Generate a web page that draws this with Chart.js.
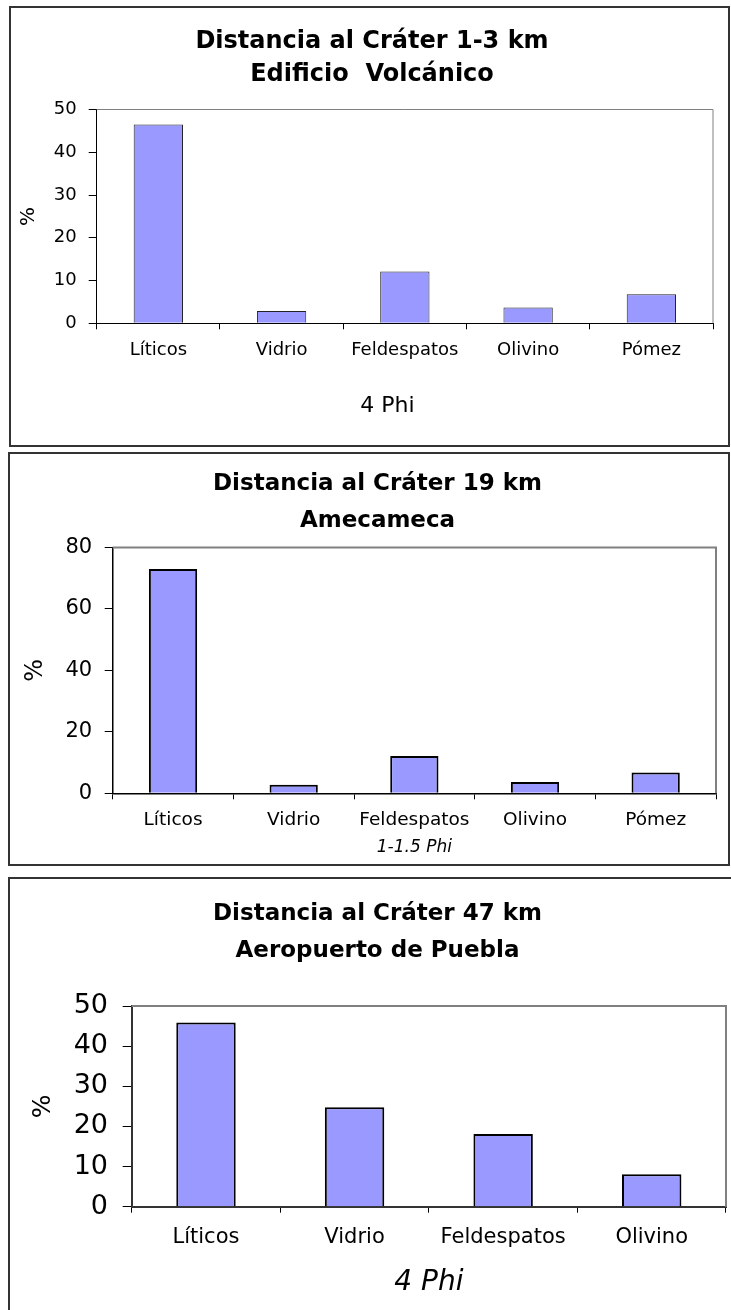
<!DOCTYPE html>
<html>
<head>
<meta charset="utf-8">
<title>Distancia al Cráter</title>
<script src="https://cdn.jsdelivr.net/npm/chart.js"></script>
<style>
    body { margin: 0; background: #fff; overflow: hidden; width: 731px; height: 1310px; position: relative; }
    .panel { position: absolute; box-sizing: border-box; border: 2px solid #333; }
    canvas { position: absolute; left: 0; }
</style>
</head>
<body>
<!-- the three framed chart boxes -->
<div class="panel" style="left:9px; top:6px; width:721px; height:441px;"></div>
<div class="panel" style="left:8px; top:452px; width:722px; height:414px;"></div>
<div class="panel" style="left:8px; top:877px; width:760px; height:500px;"></div>

<canvas id="chart1" width="744" height="438" style="top:8px;"></canvas>
<canvas id="chart2" width="755" height="410" style="top:454px;"></canvas>
<canvas id="chart3" width="755" height="431" style="top:879px;"></canvas>

<script>
// Data
const minerals = ['Líticos', 'Vidrio', 'Feldespatos', 'Olivino', 'Pómez'];
const minerals47 = ['Líticos', 'Vidrio', 'Feldespatos', 'Olivino'];

const pct1to3km = [46.5, 2.9, 12.1, 3.7, 6.8];
const pct19km = [73.0, 2.8, 12.1, 3.7, 6.8];
const pct47km = [45.9, 24.8, 18.1, 8.1];

const yTicks1to3km = [0, 10, 20, 30, 40, 50];
const yTicks19km = [0, 20, 40, 60, 80];
const yTicks47km = [0, 10, 20, 30, 40, 50];

const FONT = "'DejaVu Sans', sans-serif";

// gray line on top and right of the plot area
const plotFrame = {
    id: 'plotFrame',
    beforeDatasetsDraw(chart, args, opts) {
        const a = chart.chartArea;
        const ctx = chart.ctx;
        ctx.save();
        ctx.strokeStyle = '#808080';
        ctx.lineWidth = opts.width || 1;
        ctx.beginPath();
        ctx.moveTo(a.left, a.top);
        ctx.lineTo(a.right, a.top);
        ctx.lineTo(a.right, a.bottom);
        ctx.stroke();
        ctx.restore();
    }
};

function buildChart(id, s) {
    const ticks = s.yTicks;
    return new Chart(document.getElementById(id), {
        type: 'bar',
        data: {
            labels: s.labels,
            datasets: [{
                data: s.values,
                backgroundColor: '#9999ff',
                borderColor: s.barBorder,
                borderWidth: s.barBorderWidth,
                barPercentage: 0.4,
                categoryPercentage: 1
            }]
        },
        options: {
            responsive: false,
            animation: false,
            layout: { padding: 0 },
            plugins: {
                legend: { display: false },
                tooltip: { enabled: false },
                plotFrame: { width: s.frameWidth },
                title: {
                    display: true,
                    text: s.title,
                    color: '#000',
                    font: { family: FONT, size: s.titleSize, weight: 'bold', lineHeight: s.titleLine + 'px' },
                    padding: { top: s.titleTop, bottom: s.titleBottom }
                }
            },
            scales: {
                x: {
                    grid: { drawOnChartArea: false, color: '#000', tickLength: 6, offset: true },
                    border: { color: s.axisColor, width: s.axisWidth },
                    ticks: {
                        color: '#000', autoSkip: false, maxRotation: 0,
                        font: { family: FONT, size: s.xFont, lineHeight: 1.2 },
                        padding: s.xPad
                    },
                    title: {
                        display: true, text: s.xTitle, color: '#000',
                        font: { family: FONT, size: s.xTitleSize, style: s.xTitleStyle, lineHeight: 1.2 },
                        padding: { top: 0, bottom: s.xTitlePad }
                    },
                    afterFit: function (scale) { scale.height = s.xHeight; }
                },
                y: {
                    min: ticks[0],
                    max: ticks[ticks.length - 1],
                    grid: { drawOnChartArea: false, color: '#000', tickLength: s.yTickLen },
                    border: { color: s.axisColor, width: s.axisWidth },
                    ticks: {
                        color: '#000', stepSize: ticks[1] - ticks[0],
                        font: { family: FONT, size: s.yFont, lineHeight: 1.2 },
                        padding: s.yPad
                    },
                    title: {
                        display: true, text: '%', color: '#000',
                        font: { family: FONT, size: s.pctSize, lineHeight: 1.2 },
                        padding: { top: s.pctPad, bottom: 0 }
                    },
                    afterFit: function (scale) { scale.width = s.yWidth; }
                },
                // empty right-hand strip so the title stays centred on the whole box
                gap: {
                    type: 'linear',
                    position: 'right',
                    grid: { display: false },
                    border: { display: false },
                    ticks: { display: false },
                    afterFit: function (scale) { scale.width = s.rightGap; }
                }
            }
        },
        plugins: [plotFrame]
    });
}

// Chart 1: 1-3 km
buildChart('chart1', {
    labels: minerals, values: pct1to3km, yTicks: yTicks1to3km,
    title: ['Distancia al Cráter 1-3 km', 'Edificio  Volcánico'],
    titleSize: 24, titleLine: 33, titleTop: 17.5, titleBottom: 18,
    rightGap: 31, yWidth: 96.7, xHeight: 122.7,
    barBorder: '#222', barBorderWidth: 1, axisColor: '#000', axisWidth: 1, frameWidth: 1,
    yFont: 18, yTickLen: 8, yPad: 12, pctSize: 20, pctPad: 16.5,
    xFont: 18, xPad: 9.9,
    xTitle: '4 Phi' + '\u00a0'.repeat(5), xTitleSize: 22, xTitleStyle: 'normal', xTitlePad: 26.8
});

// Chart 2: 19 km
buildChart('chart2', {
    labels: minerals, values: pct19km, yTicks: yTicks19km,
    title: ['Distancia al Cráter 19 km', 'Amecameca'],
    titleSize: 23, titleLine: 37, titleTop: 11.5, titleBottom: 8,
    rightGap: 39, yWidth: 112.7, xHeight: 70.7,
    barBorder: '#000', barBorderWidth: 2, axisColor: '#000', axisWidth: 1.5, frameWidth: 2,
    yFont: 21, yTickLen: 8, yPad: 12.5, pctSize: 24, pctPad: 21.1,
    xFont: 18.5, xPad: 9.6,
    xTitle: '1-1.5 Phi', xTitleSize: 17, xTitleStyle: 'italic', xTitlePad: 5.8
});

// Chart 3: 47 km
buildChart('chart3', {
    labels: minerals47, values: pct47km, yTicks: yTicks47km,
    title: ['Distancia al Cráter 47 km', 'Aeropuerto de Puebla'],
    titleSize: 23, titleLine: 37, titleTop: 16.5, titleBottom: 36.5,
    rightGap: 29, yWidth: 131.7, xHeight: 103.3,
    barBorder: '#000', barBorderWidth: 2, axisColor: '#333', axisWidth: 2, frameWidth: 2,
    yFont: 27, yTickLen: 9, yPad: 14.7, pctSize: 25, pctPad: 28.5,
    xFont: 21, xPad: 12.1,
    xTitle: '4 Phi', xTitleSize: 28, xTitleStyle: 'italic', xTitlePad: 10.2
});
</script>
</body>
</html>
